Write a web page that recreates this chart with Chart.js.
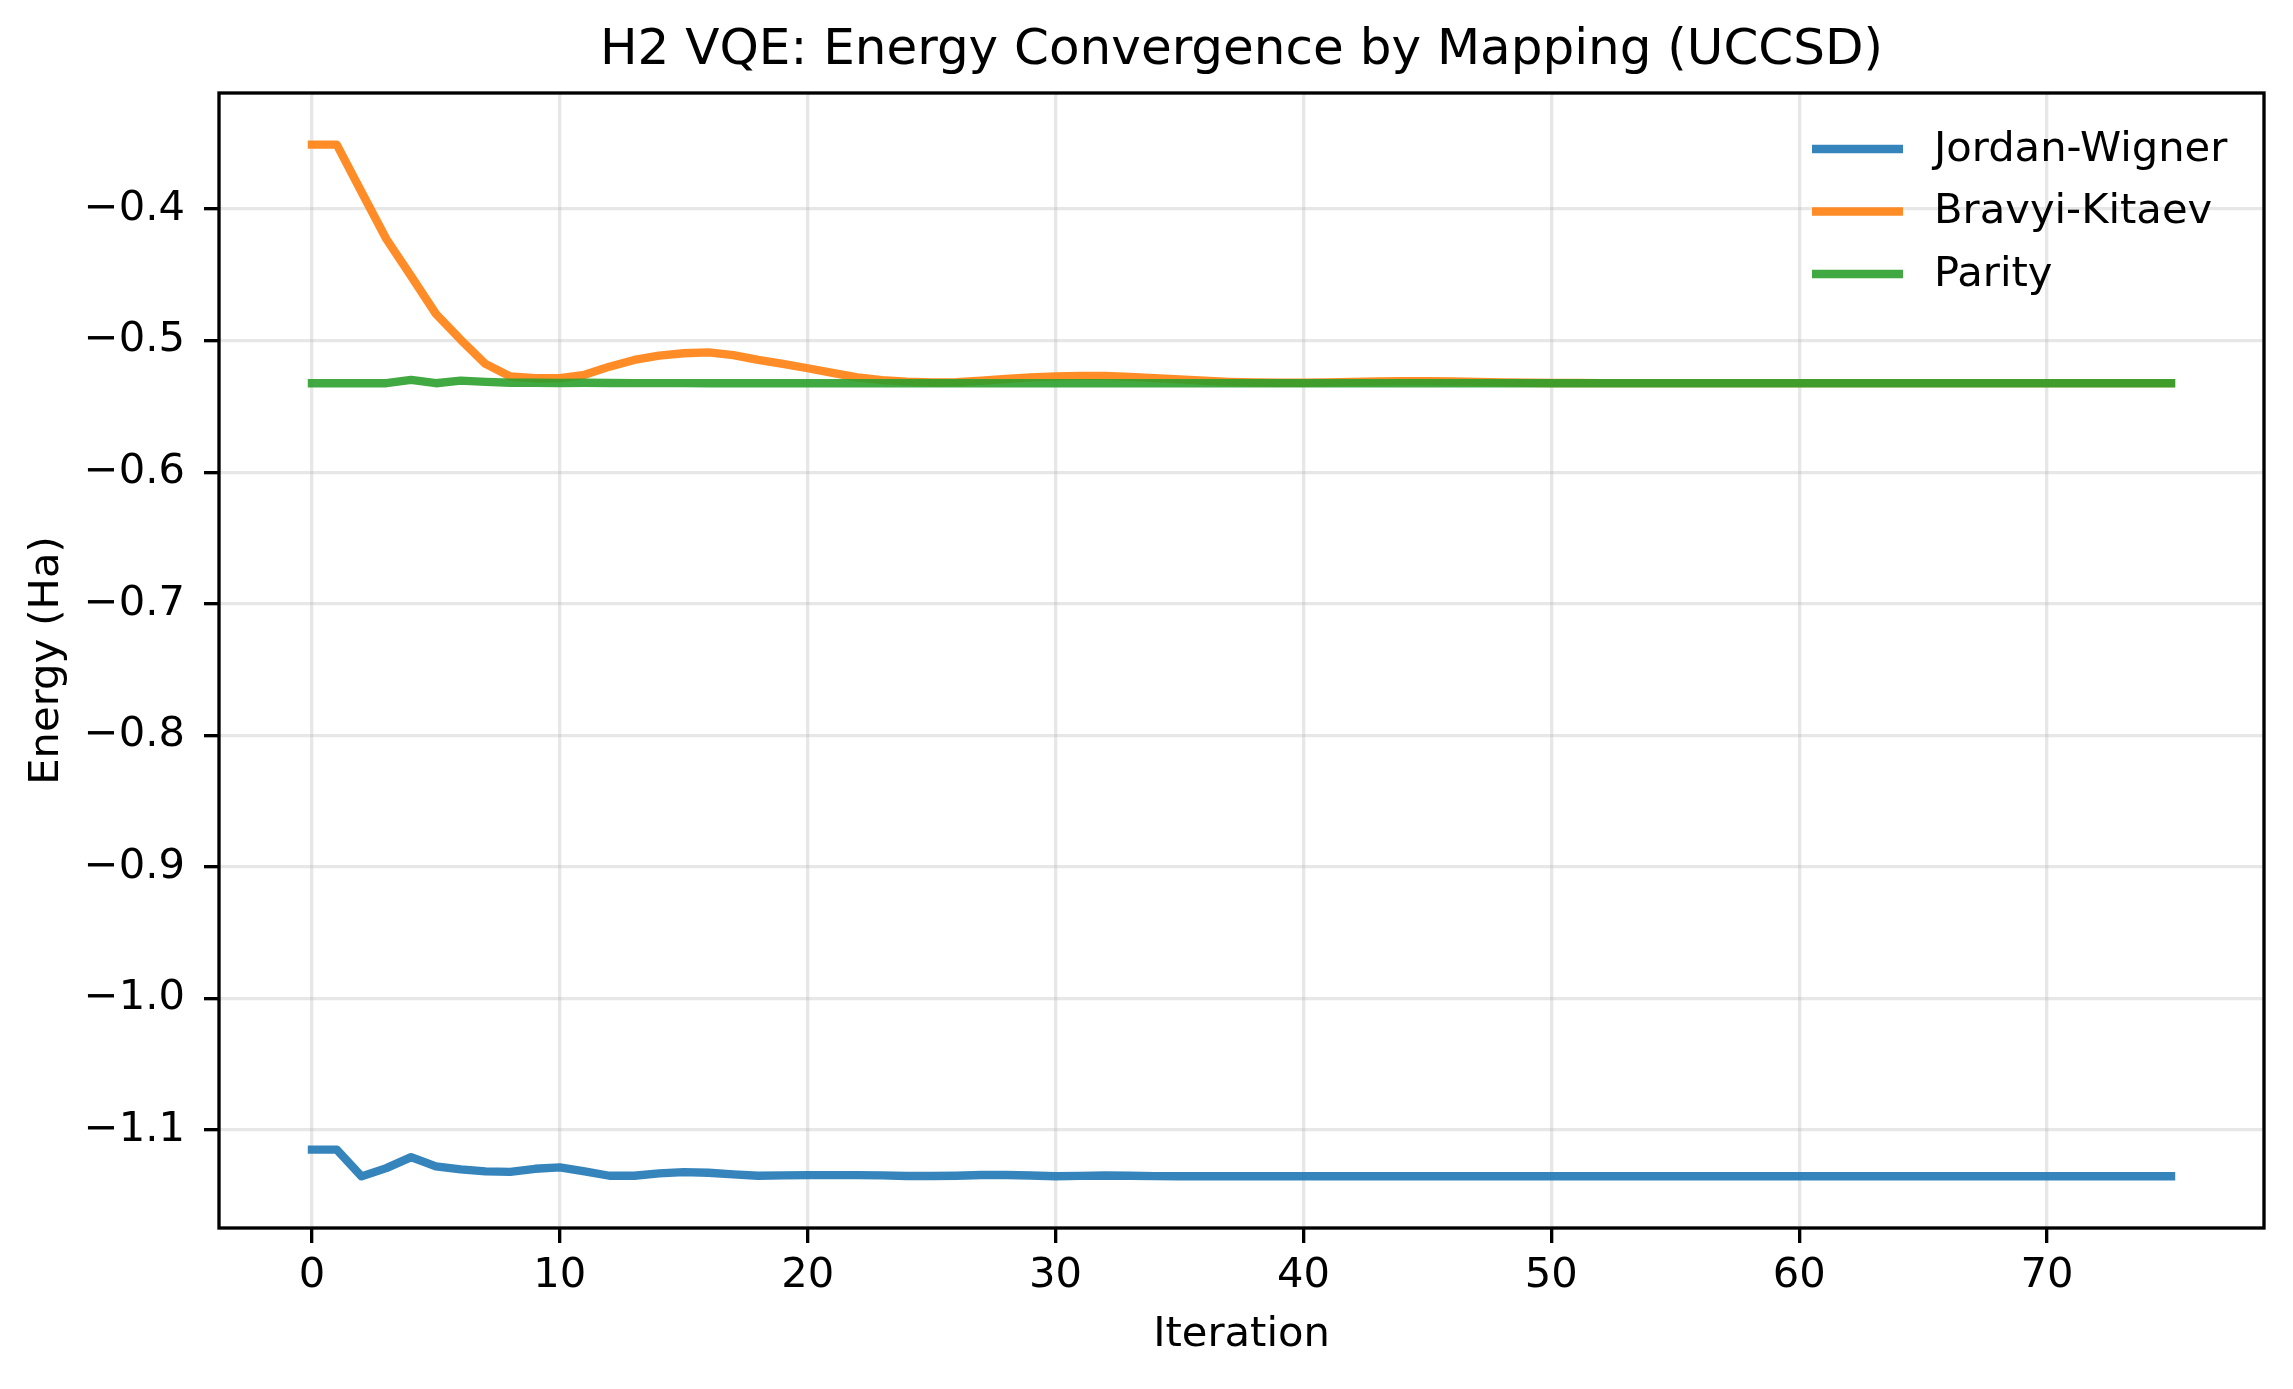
<!DOCTYPE html>
<html>
<head>
<meta charset="utf-8">
<title>H2 VQE: Energy Convergence by Mapping (UCCSD)</title>
<script src="https://cdn.jsdelivr.net/npm/chart.js@4.4.1/dist/chart.umd.min.js"></script>
<style>
    html, body { margin: 0; padding: 0; background: #fff; }
    #wrap { width: 2293px; height: 1389px; }
</style>
</head>
<body>
<div id="wrap"><canvas id="chart" width="2293" height="1389"></canvas></div>
<script>
const iterations = [
    0, 1, 2, 3, 4, 5, 6, 7, 8, 9, 10, 11, 12, 13, 14, 15, 16, 17, 18, 19,
    20, 21, 22, 23, 24, 25, 26, 27, 28, 29, 30, 31, 32, 33, 34, 35, 36, 37, 38, 39,
    40, 41, 42, 43, 44, 45, 46, 47, 48, 49, 50, 51, 52, 53, 54, 55, 56, 57, 58, 59,
    60, 61, 62, 63, 64, 65, 66, 67, 68, 69, 70, 71, 72, 73, 74, 75,
];

const jordanWigner = [
    -1.1150, -1.1150, -1.1353, -1.1290, -1.1206, -1.1277, -1.1300, -1.1315, -1.1318, -1.1295,
    -1.1285, -1.1315, -1.1348, -1.1348, -1.1330, -1.1320, -1.1325, -1.1338, -1.1348, -1.1345,
    -1.1343, -1.1343, -1.1343, -1.1345, -1.1350, -1.1350, -1.1348, -1.1342, -1.1342, -1.1346,
    -1.1352, -1.1349, -1.1346, -1.1348, -1.1351, -1.1352, -1.1352, -1.1352, -1.1352, -1.1352,
    -1.1352, -1.1352, -1.1352, -1.1352, -1.1352, -1.1352, -1.1352, -1.1352, -1.1352, -1.1352,
    -1.1352, -1.1352, -1.1352, -1.1352, -1.1352, -1.1352, -1.1352, -1.1352, -1.1352, -1.1352,
    -1.1352, -1.1352, -1.1352, -1.1352, -1.1352, -1.1352, -1.1352, -1.1352, -1.1352, -1.1352,
    -1.1352, -1.1352, -1.1352, -1.1352, -1.1352, -1.1352,
];

const bravyiKitaev = [
    -0.3510, -0.3510, -0.3870, -0.4228, -0.4510, -0.4797, -0.4993, -0.5177, -0.5273, -0.5286,
    -0.5286, -0.5260, -0.5198, -0.5147, -0.5114, -0.5096, -0.5090, -0.5110, -0.5147, -0.5177,
    -0.5210, -0.5245, -0.5280, -0.5300, -0.5312, -0.5318, -0.5315, -0.5305, -0.5292, -0.5280,
    -0.5272, -0.5268, -0.5268, -0.5275, -0.5285, -0.5295, -0.5305, -0.5313, -0.5318, -0.5320,
    -0.5320, -0.5318, -0.5314, -0.5311, -0.5309, -0.5309, -0.5311, -0.5314, -0.5318, -0.5320,
    -0.5322, -0.5322, -0.5323, -0.5323, -0.5323, -0.5323, -0.5323, -0.5323, -0.5323, -0.5323,
    -0.5323, -0.5323, -0.5323, -0.5323, -0.5323, -0.5323, -0.5323, -0.5323, -0.5323, -0.5323,
    -0.5323, -0.5323, -0.5323, -0.5323, -0.5323, -0.5323,
];

const parity = [
    -0.5324, -0.5324, -0.5324, -0.5324, -0.5298, -0.5324, -0.5304, -0.5314, -0.5320, -0.5320,
    -0.5322, -0.5320, -0.5322, -0.5323, -0.5323, -0.5323, -0.5324, -0.5324, -0.5324, -0.5324,
    -0.5324, -0.5324, -0.5324, -0.5324, -0.5324, -0.5324, -0.5324, -0.5324, -0.5324, -0.5324,
    -0.5324, -0.5324, -0.5324, -0.5324, -0.5324, -0.5324, -0.5324, -0.5324, -0.5324, -0.5324,
    -0.5324, -0.5324, -0.5324, -0.5324, -0.5324, -0.5324, -0.5324, -0.5324, -0.5324, -0.5324,
    -0.5324, -0.5324, -0.5324, -0.5324, -0.5324, -0.5324, -0.5324, -0.5324, -0.5324, -0.5324,
    -0.5324, -0.5324, -0.5324, -0.5324, -0.5324, -0.5324, -0.5324, -0.5324, -0.5324, -0.5324,
    -0.5324, -0.5324, -0.5324, -0.5324, -0.5324, -0.5324,
];

const seriesLabels = ['Jordan-Wigner', 'Bravyi-Kitaev', 'Parity'];
const xTicks = [0, 10, 20, 30, 40, 50, 60, 70];
const yTicks = [-1.1, -1.0, -0.9, -0.8, -0.7, -0.6, -0.5, -0.4];

const FONT = 'DejaVu Sans';
const PT = 300 / 72; // matplotlib points at 300 dpi
const colors = ['rgba(31,119,180,0.9)', 'rgba(255,127,14,0.9)', 'rgba(44,160,44,0.9)'];

// axis limits with matplotlib's 5% margins
function padRange(values) {
    const lo = Math.min(...values);
    const hi = Math.max(...values);
    const m = (hi - lo) * 0.05;
    return [lo - m, hi + m];
}
const [xMin, xMax] = padRange(iterations);
const [yMin, yMax] = padRange([...jordanWigner, ...bravyiKitaev, ...parity]);

const toPoints = (ys) => ys.map((y, i) => ({ x: iterations[i], y: y }));

const fmtTick = (v) => (v < 0 ? '\u2212' : '') + Math.abs(v).toFixed(1);

const frame = {
    id: 'frame',
    afterDraw(chart) {
        const { ctx, chartArea: a } = chart;
        ctx.save();
        ctx.strokeStyle = '#000';
        ctx.lineWidth = 0.8 * PT;
        ctx.strokeRect(a.left, a.top, a.right - a.left, a.bottom - a.top);
        ctx.restore();
    },
};

// frameless legend in the upper right, like matplotlib's frameon=False
const legendBox = {
    id: 'legendBox',
    afterDraw(chart) {
        const { ctx, chartArea: a } = chart;
        ctx.save();
        ctx.font = (10 * PT) + 'px "' + FONT + '"';
        ctx.textBaseline = 'middle';
        ctx.textAlign = 'left';
        chart.data.datasets.forEach((ds, i) => {
            const y = a.top + 56 + i * 62.5;
            ctx.strokeStyle = ds.borderColor;
            ctx.lineWidth = ds.borderWidth;
            ctx.lineCap = 'butt';
            ctx.beginPath();
            ctx.moveTo(a.right - 452, y);
            ctx.lineTo(a.right - 361, y);
            ctx.stroke();
            ctx.fillStyle = '#000';
            ctx.fillText(ds.label, a.right - 330, y + 1);
        });
        ctx.restore();
    },
};

const gridStyle = {
    color: 'rgba(176,176,176,0.3)',
    lineWidth: 0.8 * PT,
    tickColor: '#000',
    tickWidth: 0.8 * PT,
    tickLength: 15,
};

new Chart(document.getElementById('chart').getContext('2d'), {
    type: 'line',
    data: {
        datasets: [jordanWigner, bravyiKitaev, parity].map((ys, i) => ({
            label: seriesLabels[i],
            data: toPoints(ys),
            borderColor: colors[i],
            backgroundColor: colors[i],
            borderWidth: 2 * PT,
            borderCapStyle: 'square',
            borderJoinStyle: 'round',
            pointRadius: 0,
            tension: 0,
            fill: false,
            // later series drawn on top, as in matplotlib
            order: 2 - i,
        })),
    },
    options: {
        responsive: false,
        animation: false,
        devicePixelRatio: 1,
        layout: { padding: { left: 0, right: 29, top: 0, bottom: 0 } },
        plugins: {
            legend: { display: false },
            tooltip: { enabled: false },
            title: {
                display: true,
                text: 'H2 VQE: Energy Convergence by Mapping (UCCSD)',
                color: '#000',
                fullSize: false,
                font: { family: FONT, size: 12 * PT, weight: 'normal' },
                padding: { top: 21, bottom: 12 },
            },
        },
        scales: {
            x: {
                type: 'linear',
                min: xMin,
                max: xMax,
                bounds: 'data',
                afterBuildTicks: (s) => { s.ticks = xTicks.map((v) => ({ value: v })); },
                afterFit: (s) => { s.height = 161; },
                grid: gridStyle,
                border: { display: false },
                ticks: {
                    color: '#000',
                    padding: 8,
                    maxRotation: 0,
                    font: { family: FONT, size: 10 * PT },
                    callback: (v) => String(v),
                },
                title: {
                    display: true,
                    text: 'Iteration',
                    color: '#000',
                    font: { family: FONT, size: 10 * PT },
                    padding: { top: 0, bottom: 29 },
                },
            },
            y: {
                type: 'linear',
                min: yMin,
                max: yMax,
                bounds: 'data',
                afterBuildTicks: (s) => { s.ticks = yTicks.map((v) => ({ value: v })); },
                afterFit: (s) => { s.width = 219; },
                grid: gridStyle,
                border: { display: false },
                ticks: {
                    color: '#000',
                    padding: 19,
                    font: { family: FONT, size: 10 * PT },
                    callback: (v) => fmtTick(v),
                },
                title: {
                    display: true,
                    text: 'Energy (Ha)',
                    color: '#000',
                    font: { family: FONT, size: 10 * PT },
                    padding: { top: 22, bottom: 0 },
                },
            },
        },
    },
    plugins: [frame, legendBox],
});
</script>
</body>
</html>
